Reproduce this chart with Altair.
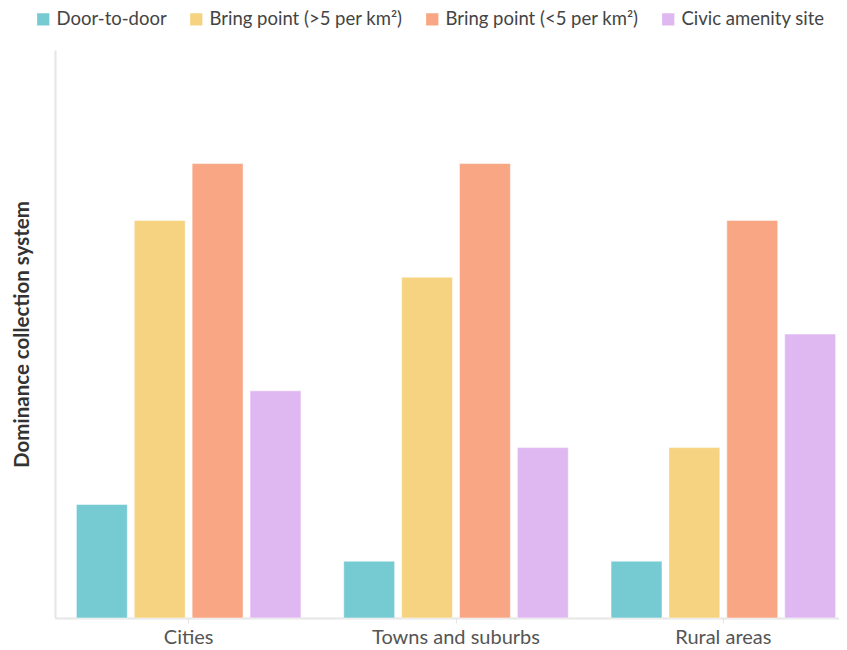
import altair as alt
import pandas as pd

categories = ["Cities", "Towns and suburbs", "Rural areas"]
series = ["Door-to-door", "Bring point (>5 per km²)", "Bring point (<5 per km²)", "Civic amenity site"]
door_to_door = [2, 1, 1]
bring_high = [7, 6, 3]
bring_low = [8, 8, 7]
civic = [4, 3, 5]
colors = ["#76CBD3", "#F5D380", "#F8A683", "#DFB8F2"]

rows = []
for s, vals in zip(series, [door_to_door, bring_high, bring_low, civic]):
    for c, v in zip(categories, vals):
        rows.append({"category": c, "series": s, "value": v})
df = pd.DataFrame(rows)

font = "Lato"

chart = alt.Chart(df).mark_bar(stroke="white", strokeOpacity=0.5, strokeWidth=1).encode(
    x=alt.X("category:N", sort=categories,
            scale=alt.Scale(paddingInner=0.16, paddingOuter=0.08, range=[0, 802]),
            axis=alt.Axis(title=None, labelAngle=0, labelFontSize=20, labelColor="#555555",
                          labelFont=font, domainColor="#e6e6e6", tickColor="#e6e6e6",
                          tickSize=5, labelPadding=4, domainWidth=2)),
    xOffset=alt.XOffset("series:N", sort=series,
                        scale=alt.Scale(paddingInner=0.12, paddingOuter=0)),
    y=alt.Y("value:Q", scale=alt.Scale(domain=[0, 10]),
            axis=alt.Axis(title="Dominance collection system", labels=False, ticks=False,
                          grid=False, titleFontSize=20.5, titleFont=font, titleFontWeight="bold",
                          titleColor="#333333", titlePadding=23, domainColor="#e6e6e6", domainWidth=2)),
    color=alt.Color("series:N", sort=series,
                    scale=alt.Scale(domain=series, range=colors),
                    legend=alt.Legend(title=None, orient="none", legendX=-21, legendY=-40,
                                      direction="horizontal", labelFontSize=18.5, labelFont=font,
                                      labelColor="#444444", symbolType="square", symbolSize=150,
                                      symbolStrokeWidth=0, columnPadding=20, labelOffset=4,
                                      labelLimit=400)),
).properties(
    width=784, height=568,
    autosize=alt.AutoSizeParams(type="none"),
    padding={"left": 47, "top": 42, "right": 0, "bottom": 32},
).configure_view(stroke=None)

chart.save("out.html", embed_options={"renderer": "svg", "actions": False})
